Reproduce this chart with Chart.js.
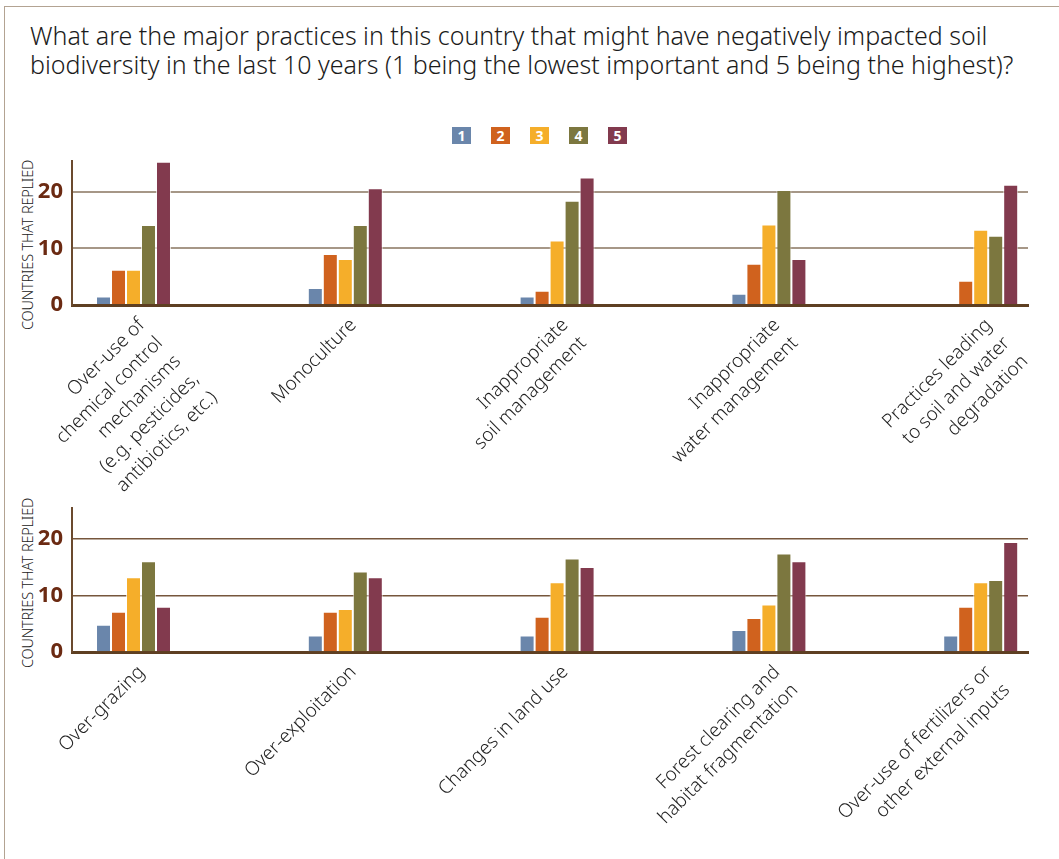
<!DOCTYPE html>
<html>
<head>
<meta charset="utf-8">
<script src="https://cdn.jsdelivr.net/npm/chart.js@4.4.1/dist/chart.umd.min.js"></script>
<style>
  html, body { margin: 0; padding: 0; background: #fff; }
  body { width: 1059px; height: 859px; position: relative; overflow: hidden; font-family: 'Noto Sans', sans-serif; }
  .frame { position: absolute; left: 4px; top: 6px; right: -2px; bottom: -2px; border-left: 1.5px solid #b3a392; border-top: 1.5px solid #b3a392; }
  .title { position: absolute; left: 30px; top: 21px; font-size: 25px; font-weight: 300; line-height: 29px; color: #1b1b1b; white-space: nowrap; }
  .legend { position: absolute; top: 127px; left: 452px; display: flex; gap: 20px; }
  .legend span { display: block; width: 19px; height: 17px; color: #fff; font-weight: bold; font-size: 14px; text-align: center; line-height: 17px; }
  .ytitle { position: absolute; left: 27px; transform: translate(-50%, -50%) rotate(-90deg); font-size: 14.5px; font-weight: 300; color: #222; white-space: nowrap; letter-spacing: -0.2px; }
  .box { position: absolute; left: 0; width: 1059px; }
</style>
</head>
<body>
<div class="frame"></div>
<div class="title">What are the major practices in this country that might have negatively impacted soil<br>biodiversity in the last 10 years (1 being the lowest important and 5 being the highest)?</div>
<div class="legend" id="legend"></div>
<div class="ytitle" style="top:245px">COUNTRIES THAT REPLIED</div>
<div class="ytitle" style="top:583px">COUNTRIES THAT REPLIED</div>
<div class="box" style="top:150px;height:370px"><canvas id="topChart" width="1059" height="370"></canvas></div>
<div class="box" style="top:497px;height:362px"><canvas id="bottomChart" width="1059" height="362"></canvas></div>
<script>
// categories
const topCategories = [
    ['Over-use of', 'chemical control', 'mechanisms', '(e.g. pesticides,', 'antibiotics, etc.)'],
    'Monoculture',
    ['Inappropriate', 'soil management'],
    ['Inappropriate', 'water management'],
    ['Practices leading', 'to soil and water', 'degradation']
];
const bottomCategories = [
    'Over-grazing',
    'Over-exploitation',
    'Changes in land use',
    ['Forest clearing and', 'habitat fragmentation'],
    ['Over-use of fertilizers or', 'other external inputs']
];

// ratings 1..5
const ratingLabels = ['1', '2', '3', '4', '5'];
const ratingColors = ['#6a86ab', '#d0621e', '#f5ae2a', '#7c773f', '#823a4e'];

// top chart values, one array per rating
const top1 = [1.5, 3, 1.5, 2, 0];
const top2 = [6.2, 9, 2.5, 7.3, 4.3];
const top3 = [6.2, 8.1, 11.4, 14.2, 13.3];
const top4 = [14.1, 14.1, 18.4, 20.3, 12.2];
const top5 = [25.3, 20.6, 22.5, 8.1, 21.2];

// bottom chart values
const bottom1 = [4.8, 2.9, 2.9, 3.9, 2.9];
const bottom2 = [7.1, 7.1, 6.2, 6.0, 8.0];
const bottom3 = [13.2, 7.6, 12.3, 8.4, 12.3];
const bottom4 = [16.0, 14.2, 16.5, 17.4, 12.7];
const bottom5 = [8.0, 13.2, 15.0, 16.0, 19.4];

// y axis
const yTicks = [0, 10, 20];
const yMax = 25.5;

// legend
const legendEl = document.getElementById('legend');
ratingLabels.forEach((lab, i) => {
    const s = document.createElement('span');
    s.style.background = ratingColors[i];
    s.innerText = lab;
    legendEl.appendChild(s);
});

function buildChart(canvasId, categories, series, gridColor, gridWidth, xHeight) {
    const datasets = series.map((values, i) => ({
        label: ratingLabels[i],
        data: values,
        backgroundColor: ratingColors[i],
        borderColor: 'rgba(255,255,255,0.7)',
        borderWidth: 1,
        borderSkipped: 'bottom',
        categoryPercentage: 0.354,
        barPercentage: 1.0
    }));

    return new Chart(document.getElementById(canvasId), {
        type: 'bar',
        data: {
            labels: categories.map((c, i) => i),
            datasets: datasets
        },
        options: {
            responsive: false,
            devicePixelRatio: 1,
            animation: false,
            layout: { padding: { left: 0, right: 31, top: 10.5, bottom: 0 } },
            plugins: { legend: { display: false }, tooltip: { enabled: false } },
            scales: {
                x: {
                    type: 'linear',
                    offset: false,
                    min: -0.2904,
                    max: 4.2233,
                    afterBuildTicks: scale => { scale.ticks = categories.map((c, i) => ({ value: i })); },
                    afterFit: scale => { scale.height = xHeight; scale.paddingLeft = 0; scale.paddingRight = 0; },
                    grid: { display: false, drawTicks: false },
                    border: { display: true, color: '#5e3f22', width: 3 },
                    ticks: {
                        autoSkip: false,
                        minRotation: 45,
                        maxRotation: 45,
                        padding: 8,
                        labelOffset: 8,
                        color: '#1e1e1e',
                        font: { family: "'Noto Sans', sans-serif", size: 19, weight: '300', lineHeight: 1.35 },
                        callback: v => categories[v]
                    }
                },
                y: {
                    min: 0,
                    max: yMax,
                    afterBuildTicks: scale => { scale.ticks = yTicks.map(v => ({ value: v })); },
                    afterFit: scale => { scale.width = 72; scale.paddingTop = 0; scale.paddingBottom = 0; },
                    grid: {
                        drawTicks: false,
                        color: ctx => ctx.tick && ctx.tick.value === 0 ? 'rgba(0,0,0,0)' : gridColor,
                        lineWidth: gridWidth
                    },
                    border: { display: true, color: '#6b4a2e', width: 2 },
                    ticks: {
                        padding: 9,
                        color: '#6b2a12',
                        font: { family: "'Noto Sans', sans-serif", size: 22, weight: 'bold' }
                    }
                }
            }
        }
    });
}

buildChart('topChart', topCategories, [top1, top2, top3, top4, top5], '#a69787', 2, 215);
buildChart('bottomChart', bottomCategories, [bottom1, bottom2, bottom3, bottom4, bottom5], '#76563c', 1.5, 207);
</script>
</body>
</html>
